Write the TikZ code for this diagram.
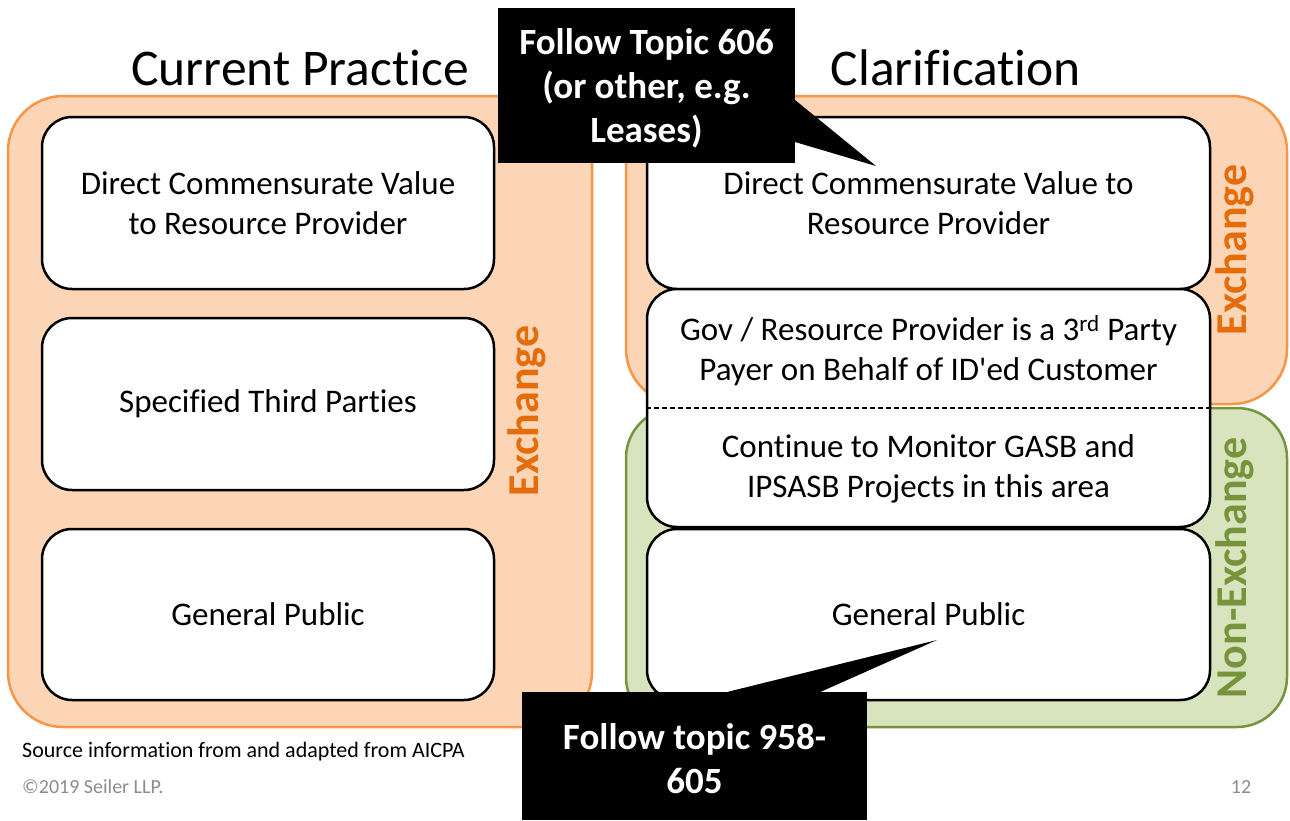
\documentclass[tikz,border=0pt]{standalone}
\usepackage{fontspec}
\setmainfont{Carlito}[Ligatures={NoCommon}]
\definecolor{peach}{HTML}{FBD5B5}
\definecolor{orangeS}{HTML}{F79646}
\definecolor{orangeT}{HTML}{E46C0A}
\definecolor{greenF}{HTML}{D7E4BD}
\definecolor{greenS}{HTML}{77933C}
\definecolor{footgray}{HTML}{8C8C8C}
\begin{document}
\begin{tikzpicture}[x=1pt,y=-1pt,
  panelO/.style={draw=orangeS, fill=peach, line width=2.5pt, rounded corners=55pt, inner sep=0pt},
  panelG/.style={draw=greenS, fill=greenF, line width=2.5pt, rounded corners=50pt, inner sep=0pt},
  wbox/.style={draw=black, fill=white, line width=2.5pt, rounded corners=30pt, inner sep=0pt, align=center, font=\fontsize{33}{40}\selectfont},
  btext/.style={align=center, font=\fontsize{33}{40}\selectfont, inner sep=0pt},
  title/.style={font=\fontsize{51.5}{60}\selectfont, inner sep=0pt},
  vlabel/.style={rotate=90, font=\bfseries\fontsize{44}{50}\selectfont, inner sep=0pt},
  callout/.style={fill=black, text=white, align=center, inner sep=0pt, font=\bfseries\fontsize{37}{44}\selectfont},
]
\useasboundingbox[fill=white] (0,0) rectangle (1290,820);

% panels
\node[panelO, minimum width=584pt, minimum height=631pt] (lp) at (300,411.5) {};
\node[panelO, minimum width=661pt, minimum height=308pt] (rpo) at (956.5,250) {};
\node[panelG, minimum width=661pt, minimum height=319pt] (rpg) at (956.5,567.5) {};

% titles
\node[title] (t1) at (300,68) {Current Practice};
\node[title] (t2) at (956,68) {Clarification};

% left boxes
\node[wbox, minimum width=452pt, minimum height=172pt] (l1) at (268,203) {Direct Commensurate Value\\to Resource Provider};
\node[wbox, minimum width=452pt, minimum height=172pt] (l2) at (268,404) {Specified Third Parties};
\node[wbox, minimum width=452pt, minimum height=171pt] (l3) at (268,614.5) {General Public};

% right boxes
\node[wbox, minimum width=563pt, minimum height=172pt] (r1) at (928.5,203) {Direct Commensurate Value to\\Resource Provider};
\node[wbox, minimum width=563pt, minimum height=238pt] (r2) at (928.5,408) {};
\node[wbox, minimum width=563pt, minimum height=171pt] (r3) at (928.5,614.5) {General Public};
\draw[dash pattern=on 5pt off 3pt, line width=1.5pt] (r2.west) -- (r2.east);
\node[btext] (r2a) at (928.5,351) {Gov / Resource Provider is a 3\textsuperscript{rd} Party\\Payer on Behalf of ID\textquotesingle ed Customer};
\node[btext] (r2b) at (928.5,469) {Continue to Monitor GASB and\\IPSASB Projects in this area};

% vertical labels
\node[vlabel, text=orangeT] (ex1) at (527,411) {Exchange};
\node[vlabel, text=orangeT] (ex2) at (1235,250) {Exchange};
\node[vlabel, text=greenS] (nex) at (1235,568) {Non-Exchange};

% callouts
\node[callout, minimum width=297pt, minimum height=155pt] (c1) at (646.5,85.5) {};
\node[callout, fill=none] (c1t) at (646.5,88) {Follow Topic 606\\(or other, e.g.\\Leases)};
\coordinate (tip1) at (876,166);
\fill[black] (795,100) -- (tip1) -- (795,142) -- cycle;

\node[callout, minimum width=345pt, minimum height=128pt, anchor=north west] (c2) at (522,692) {};
\node[callout, fill=none] (c2t) at (694.5,759) {Follow topic 958-\\605};
\coordinate (tip2) at (937,640);
\fill[black] (723,693) -- (tip2) -- (818,693) -- cycle;

% footer
\node[anchor=west, inner sep=0pt, font=\fontsize{22}{26}\selectfont] (src) at (22,752) {Source information from and adapted from AICPA};
\node[anchor=west, inner sep=0pt, text=footgray, font=\fontsize{20}{24}\selectfont] (copy) at (22,787) {©2019 Seiler LLP.};
\node[inner sep=0pt, text=footgray, font=\fontsize{20}{24}\selectfont] (pg) at (1241,787) {12};
\end{tikzpicture}
\end{document}
